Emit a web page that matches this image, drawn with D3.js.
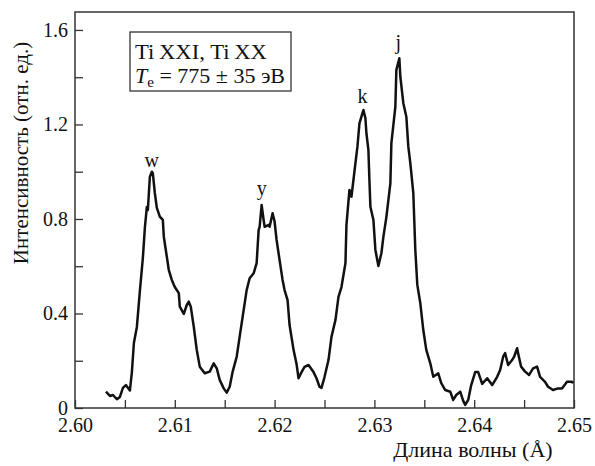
<!doctype html>
<html>
  <head>
    <meta charset="utf-8">
    <title>Ti XXI, Ti XX spectrum</title>
    <style>
      body { margin: 0; background: #fff; }
      svg text { font-family: "Liberation Serif", "Times New Roman", Times, serif; fill: #111; }
    </style>
    <script src="https://cdnjs.cloudflare.com/ajax/libs/d3/7.8.5/d3.min.js"></script>
  </head>
  <body>
    <div id="chart"></div>
    <script>
      // spectrum: wavelength (Å) and intensity (rel. units)
      const wavelength = [
        2.6031, 2.6035, 2.6038, 2.6042, 2.6045, 2.6048, 2.6051, 2.6055, 2.6057, 2.6059,
        2.6062, 2.6065, 2.6068, 2.6070, 2.6072, 2.6073, 2.6075, 2.6077, 2.6078, 2.6080,
        2.6082, 2.6085, 2.6088, 2.6089, 2.6092, 2.6094, 2.6097, 2.6100, 2.6104, 2.6105,
        2.6109, 2.6112, 2.6114, 2.6116, 2.6119, 2.6122, 2.6125, 2.6130, 2.6135, 2.6139,
        2.6142, 2.6145, 2.6149, 2.6152, 2.6155, 2.6158, 2.6162, 2.6165, 2.6169, 2.6172,
        2.6175, 2.6179, 2.6182, 2.6184, 2.6185, 2.6187, 2.6189, 2.6190, 2.6194, 2.6195,
        2.6198, 2.6200, 2.6202, 2.6205, 2.6208, 2.6210, 2.6213, 2.6215, 2.6219, 2.6222,
        2.6224, 2.6227, 2.6230, 2.6234, 2.6239, 2.6242, 2.6245, 2.6247, 2.6250, 2.6254,
        2.6257, 2.6261, 2.6264, 2.6267, 2.6271, 2.6272, 2.6275, 2.6277, 2.6279, 2.6281,
        2.6283, 2.6285, 2.6287, 2.6289, 2.6291, 2.6292, 2.6294, 2.6295, 2.6296, 2.6299,
        2.6301, 2.6304, 2.6307, 2.6309, 2.6312, 2.6316, 2.6317, 2.6321, 2.6322, 2.6325,
        2.6326, 2.6329, 2.6332, 2.6334, 2.6336, 2.6339, 2.6341, 2.6343, 2.6346, 2.6349,
        2.6352, 2.6356, 2.6359, 2.6364, 2.6367, 2.6371, 2.6376, 2.6379, 2.6382, 2.6386,
        2.6389, 2.6391, 2.6394, 2.6397, 2.6401, 2.6404, 2.6408, 2.6413, 2.6418, 2.6423,
        2.6426, 2.6429, 2.6431, 2.6434, 2.6438, 2.6440, 2.6443, 2.6444, 2.6447, 2.6451,
        2.6455, 2.6459, 2.6463, 2.6466, 2.6471, 2.6474, 2.6479, 2.6484, 2.6488, 2.6493,
        2.6498, 2.6499
      ];
      const intensity = [
        0.069, 0.051, 0.055, 0.037, 0.047, 0.085, 0.097, 0.074, 0.152, 0.275,
        0.343, 0.495, 0.635, 0.762, 0.851, 0.838, 0.978, 1.000, 0.993, 0.910,
        0.847, 0.810, 0.796, 0.725, 0.640, 0.584, 0.542, 0.512, 0.486, 0.429,
        0.398, 0.436, 0.450, 0.429, 0.344, 0.246, 0.175, 0.147, 0.154, 0.189,
        0.168, 0.119, 0.083, 0.065, 0.090, 0.154, 0.217, 0.302, 0.415, 0.499,
        0.549, 0.570, 0.613, 0.753, 0.767, 0.859, 0.796, 0.767, 0.775, 0.767,
        0.824, 0.789, 0.711, 0.626, 0.542, 0.499, 0.457, 0.351, 0.246, 0.186,
        0.126, 0.152, 0.174, 0.182, 0.152, 0.126, 0.090, 0.085, 0.131, 0.203,
        0.301, 0.373, 0.470, 0.512, 0.614, 0.775, 0.923, 0.894, 0.965, 1.036,
        1.106, 1.205, 1.233, 1.261, 1.226, 1.163, 1.092, 0.965, 0.852, 0.796,
        0.669, 0.601, 0.655, 0.724, 0.808, 0.951, 1.120, 1.275, 1.431, 1.480,
        1.402, 1.290, 1.233, 1.106, 1.036, 0.909, 0.669, 0.521, 0.444, 0.330,
        0.246, 0.189, 0.132, 0.147, 0.105, 0.076, 0.069, 0.034, 0.055, 0.069,
        0.030, 0.013, 0.034, 0.097, 0.152, 0.152, 0.102, 0.126, 0.097, 0.132,
        0.161, 0.217, 0.232, 0.182, 0.203, 0.217, 0.253, 0.232, 0.175, 0.154,
        0.140, 0.168, 0.175, 0.132, 0.111, 0.090, 0.076, 0.083, 0.083, 0.111,
        0.111, 0.105
      ];

      // line names and where their letters sit
      const peakNames = ['w', 'y', 'k', 'j'];
      const peakWavelength = [2.6077, 2.6187, 2.6288, 2.6324];
      const peakLabelAt = [1.021, 0.902, 1.290, 1.520];

      // axis ticks
      const xTicks = [2.60, 2.61, 2.62, 2.63, 2.64, 2.65];
      const xMinor = [2.605, 2.615, 2.625, 2.635, 2.645];
      const yTicks = [0, 0.4, 0.8, 1.2, 1.6];
      const yMinor = [0.2, 0.6, 1.0, 1.4];

      const data = wavelength.map((w, i) => ({ x: w, y: intensity[i] }));

      const width = 595, height = 466;
      const margin = { top: 12, right: 21, bottom: 58, left: 75 };
      const innerW = width - margin.left - margin.right;
      const innerH = height - margin.top - margin.bottom;

      const svg = d3.select('#chart').append('svg')
        .attr('width', width)
        .attr('height', height);

      const g = svg.append('g')
        .attr('transform', `translate(${margin.left},${margin.top})`);

      const x = d3.scaleLinear().domain([2.60, 2.65]).range([0, innerW]);
      const y = d3.scaleLinear().domain([0, 1.676]).range([innerH, 0]);

      // ticks point inward, labels outside
      g.append('g')
        .attr('transform', `translate(0,${innerH})`)
        .call(d3.axisBottom(x).tickValues(xTicks).tickFormat(d3.format('.2f'))
          .tickSizeInner(-8).tickSizeOuter(0).tickPadding(10));
      g.append('g')
        .attr('transform', `translate(0,${innerH})`)
        .call(d3.axisBottom(x).tickValues(xMinor).tickFormat('')
          .tickSizeInner(-8).tickSizeOuter(0));

      g.append('g')
        .call(d3.axisLeft(y).tickValues(yTicks).tickFormat(d => d === 0 ? '0' : d3.format('.1f')(d))
          .tickSizeInner(-8).tickSizeOuter(0).tickPadding(7));
      g.append('g')
        .call(d3.axisLeft(y).tickValues(yMinor).tickFormat('')
          .tickSizeInner(-8).tickSizeOuter(0));

      g.selectAll('.domain').remove();
      g.selectAll('.tick line').attr('stroke', '#333').attr('stroke-width', 1.3);
      g.selectAll('.tick text')
        .attr('fill', '#111')
        .style('font-size', '20px');

      // frame
      g.append('rect')
        .attr('width', innerW)
        .attr('height', innerH)
        .attr('fill', 'none')
        .attr('stroke', '#333')
        .attr('stroke-width', 1.5);

      // spectrum
      const line = d3.line()
        .x(d => x(d.x))
        .y(d => y(d.y));

      g.append('path')
        .datum(data)
        .attr('d', line)
        .attr('fill', 'none')
        .attr('stroke', '#111')
        .attr('stroke-width', 2.5)
        .attr('stroke-linejoin', 'round');

      // letters over the peaks
      g.selectAll('.peak')
        .data(peakNames)
        .join('text')
        .attr('class', 'peak')
        .attr('x', (d, i) => x(peakWavelength[i]))
        .attr('y', (d, i) => y(peakLabelAt[i]))
        .attr('text-anchor', 'middle')
        .style('font-size', '20px')
        .text(d => d);

      // legend box
      const legend = svg.append('g');
      legend.append('rect')
        .attr('x', 130).attr('y', 32)
        .attr('width', 161).attr('height', 59)
        .attr('fill', '#fff')
        .attr('stroke', '#333')
        .attr('stroke-width', 1.3);
      legend.append('text')
        .attr('x', 135).attr('y', 58.5)
        .attr('textLength', 132)
        .attr('lengthAdjust', 'spacingAndGlyphs')
        .style('font-size', '22px')
        .text('Ti\u2009XXI, Ti\u2009XX');
      const l2 = legend.append('text')
        .attr('x', 135).attr('y', 83)
        .style('font-size', '22px');
      l2.append('tspan').style('font-style', 'italic').text('T');
      l2.append('tspan').attr('dy', 4).style('font-size', '15px').text('e');
      l2.append('tspan').attr('dy', -4).text(' = 775 ± 35 эВ');

      // axis titles
      svg.append('text')
        .attr('x', 473)
        .attr('y', 457)
        .attr('text-anchor', 'middle')
        .style('font-size', '22px')
        .text('Длина волны (Å)');

      svg.append('text')
        .attr('transform', 'translate(28,153) rotate(-90)')
        .attr('text-anchor', 'middle')
        .style('font-size', '21px')
        .text('Интенсивность (отн. ед.)');
    </script>
  </body>
</html>
